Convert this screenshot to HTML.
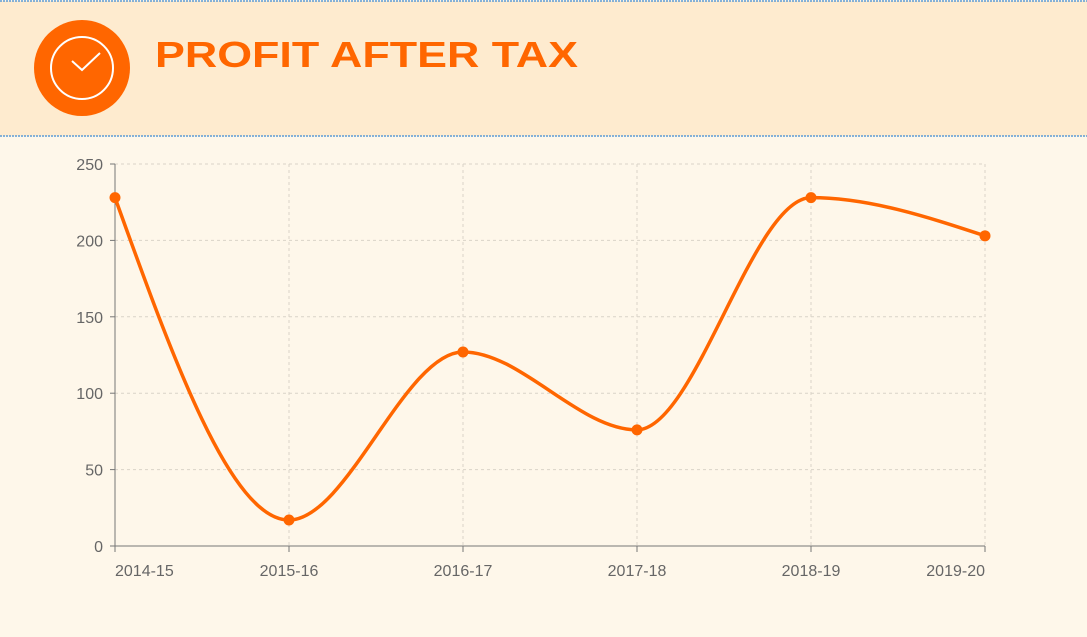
<!DOCTYPE html>
<html><head><meta charset="utf-8"><style>
body{margin:0;width:1087px;height:632px;background:#fef7ea;overflow:hidden;font-family:"Liberation Sans",sans-serif}
</style></head><body>
<svg width="1087" height="632">
<rect x="0" y="0" width="1087" height="632" fill="#fef7ea"/>
<g>
<rect x="0" y="1" width="1087" height="135" fill="#feebcf"/>
<line x1="0" y1="1" x2="1087" y2="1" stroke="#5b9bd5" stroke-width="1.5" stroke-dasharray="2,1"/>
<line x1="0" y1="136" x2="1087" y2="136" stroke="#5b9bd5" stroke-width="1.5" stroke-dasharray="2,1"/>
<g>
<circle cx="82" cy="68" r="48" fill="#ff6600"/>
<circle cx="82" cy="68" r="31" fill="none" stroke="#fff" stroke-width="2"/>
<polyline points="72,61 82,70 100,53" fill="none" stroke="#fff" stroke-width="2"/>
</g>
<text x="155" y="67" font-size="36" font-weight="bold" fill="#ff6600" textLength="423" lengthAdjust="spacingAndGlyphs">PROFIT AFTER TAX</text>
</g>
<g id="grid"></g>
<g id="axes"></g>
<g id="series"></g>
</svg>
<script>
const categories=["2014-15","2015-16","2016-17","2017-18","2018-19","2019-20"];
const values=[228,17,127,76,228,203];
const yTicks=[0,50,100,150,200,250];
const NS="http://www.w3.org/2000/svg";
const x0=115,x1=985,yb=546,yt=164,ymax=250;
const xs=i=>x0+(x1-x0)*i/(categories.length-1);
const ys=v=>yb-(yb-yt)*v/ymax;
function mk(t,a,p){const e=document.createElementNS(NS,t);for(const k in a)e.setAttribute(k,a[k]);p.appendChild(e);return e;}
const grid=document.getElementById('grid'),axes=document.getElementById('axes'),ser=document.getElementById('series');
yTicks.forEach(v=>{
 if(v>0){const l=mk('line',{x1:x0,x2:x1,y1:ys(v),y2:ys(v),stroke:'#d9d3c8','stroke-dasharray':'3,3'},grid);
 
 }
 mk('line',{x1:x0-5,x2:x0,y1:ys(v),y2:ys(v),stroke:'#777'},axes);
 const t=mk('text',{x:x0-12,y:ys(v)+6,'text-anchor':'end','font-size':16,fill:'#666'},axes);t.textContent=v;
 
 
});
categories.forEach((c,i)=>{
 if(i>0){const l=mk('line',{x1:xs(i),x2:xs(i),y1:yt,y2:yb,stroke:'#d9d3c8','stroke-dasharray':'3,3'},grid);
 
 }
 mk('line',{x1:xs(i),x2:xs(i),y1:yb,y2:yb+6,stroke:'#777'},axes);
 let anchor='middle',dx=0;if(i==0){anchor='start';dx=0;}if(i==categories.length-1){anchor='end';}
 const t=mk('text',{x:xs(i)+dx,y:yb+30,'text-anchor':anchor,'font-size':16,fill:'#666'},axes);t.textContent=c;
 
 
});
mk('line',{x1:x0,x2:x0,y1:yt,y2:yb,stroke:'#777'},axes);
mk('line',{x1:x0,x2:x1,y1:yb,y2:yb,stroke:'#777'},axes);
// monotone X curve
const P=values.map((v,i)=>[xs(i),ys(v)]),n=P.length;
const d=[],m=[];for(let i=0;i<n-1;i++){d.push((P[i+1][1]-P[i][1])/(P[i+1][0]-P[i][0]));}
for(let i=0;i<n;i++){
 if(i==0)m.push(d[0]);else if(i==n-1)m.push(d[n-2]);
 else{const a=d[i-1],b=d[i];if(a*b<=0)m.push(0);else{const h0=P[i][0]-P[i-1][0],h1=P[i+1][0]-P[i][0];const s=(a*h1+b*h0)/(h0+h1);m.push((Math.sign(a)+Math.sign(b))*Math.min(Math.abs(a),Math.abs(b),0.5*Math.abs(s)));}}
}
m[0]=(3*d[0]-m[1])/2; m[n-1]=(3*d[n-2]-m[n-2])/2;
let path=`M${P[0][0]},${P[0][1]}`;
for(let i=0;i<n-1;i++){const h=(P[i+1][0]-P[i][0])/3;path+=` C${P[i][0]+h},${P[i][1]+h*m[i]} ${P[i+1][0]-h},${P[i+1][1]-h*m[i+1]} ${P[i+1][0]},${P[i+1][1]}`;}
const ln=mk('path',{d:path,fill:'none',stroke:'#ff6600','stroke-width':3.5},ser);


P.forEach(p=>{const c=mk('circle',{cx:p[0],cy:p[1],r:5.5,fill:'#ff6600'},ser);
 
 });
</script>
</body></html>
